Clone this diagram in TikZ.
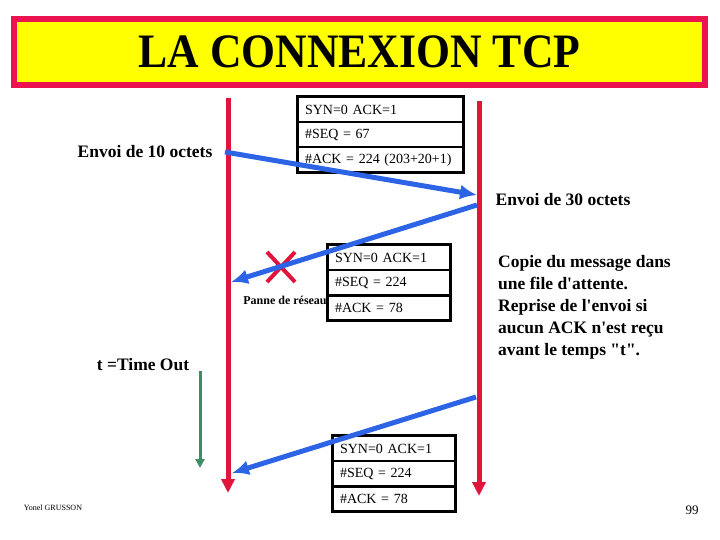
\documentclass[tikz,border=0pt]{standalone}
\usepackage{fontspec}
\setmainfont{Liberation Serif}[Ligatures=TeXOff]
\usetikzlibrary{arrows.meta, positioning, calc}
\definecolor{framered}{RGB}{235,20,80}
\definecolor{linered}{RGB}{225,20,60}
\definecolor{segblue}{RGB}{45,100,230}
\definecolor{timegreen}{RGB}{60,140,100}
\definecolor{titleyellow}{RGB}{255,255,0}

\begin{document}
\begin{tikzpicture}[x=1pt, y=-1pt,
    every node/.style={font=\fontsize{17.5}{22}\selectfont\bfseries},
    rowbox/.style={draw, line width=1.2pt, minimum height=24pt, inner sep=0pt, text width=#1-14pt, minimum width=#1, align=left, font=\fontsize{14}{14}\selectfont},
    life/.style={linered, line width=5pt, -{Triangle[width=13pt,length=14pt]}},
    segment/.style={segblue, line width=5pt, -{Latex[width=15pt,length=17pt]}}]
\useasboundingbox (0,0) rectangle (720,540);
% title
\node[draw=framered, line width=6pt, fill=titleyellow, minimum width=691pt, minimum height=66pt, inner sep=0pt] (title) at (359.5,52) {\fontsize{48}{48}\selectfont\scalebox{0.91}[1]{LA CONNEXION TCP}};
% lifelines
\coordinate (hostA) at (228,98);
\coordinate (hostAend) at (228,493);
\coordinate (hostB) at (479,101);
\coordinate (hostBend) at (479,496);
\draw[life] (hostA) -- (hostAend);
\draw[life] (hostB) -- (hostBend);
% time out
\coordinate (tout) at (200,371);
\coordinate (toutend) at (200,468);
\draw[timegreen, line width=3pt, -{Triangle[width=9pt,length=9pt]}] (tout) -- (toutend);
% network failure
\coordinate (xc) at (281,267);
\draw[linered, line width=4pt] ($(xc)+(-14,-15)$) -- ($(xc)+(14,15)$) ($(xc)+(14,-15)$) -- ($(xc)+(-14,15)$);
% first segment header
\node[rowbox=165pt, fill=white] (h1a) at (380.5,109.5) {SYN=0 ACK=1};
\node[rowbox=165pt, fill=white, below=0pt of h1a] (h1b) {\#SEQ = 67};
\node[rowbox=165pt, fill=white, below=0pt of h1b] (h1c) {\#ACK = 224 (203+20+1)};
\draw[line width=3pt] (h1a.north west) rectangle (h1c.south east);
% lost segment header
\node[rowbox=122pt, fill=white] (h2a) at (389,257.5) {SYN=0 ACK=1};
\node[rowbox=122pt, fill=white, below=0pt of h2a] (h2b) {\#SEQ = 224};
\node[rowbox=122pt, fill=white, below=0pt of h2b] (h2c) {\#ACK = 78};
\draw[line width=3pt] (h2a.north west) rectangle (h2c.south east);
% resent segment header
\node[rowbox=122pt, fill=white] (h3a) at (394,448.5) {SYN=0 ACK=1};
\node[rowbox=122pt, fill=white, below=0pt of h3a] (h3b) {\#SEQ = 224};
\node[rowbox=122pt, fill=white, below=0pt of h3b] (h3c) {\#ACK = 78};
\draw[line width=3pt] (h3a.north west) rectangle (h3c.south east);
% segments
\coordinate (s1) at (225,152);
\coordinate (s1end) at (477,195);
\coordinate (s2) at (477,205);
\coordinate (s2end) at (231,282);
\coordinate (s3) at (476,397);
\coordinate (s3end) at (232,473);
\draw[segment] (s1) -- (s1end);
\draw[segment] (s2) -- (s2end);
\draw[segment] (s3) -- (s3end);
% labels
\node (send10) at (145,152) {Envoi de 10 octets};
\node (send30) at (563,200) {Envoi de 30 octets};
\node (timeout) at (143,365) {t =Time Out};
\node[font=\fontsize{12}{12}\selectfont\bfseries] (failure) at (285,300) {Panne de réseau};
\node[anchor=north west, align=left, inner sep=0pt] (note) at (498,255) {Copie du message dans\\une file d'attente.\\Reprise de l'envoi si\\aucun ACK n'est reçu\\avant le temps "t".};
\node[font=\fontsize{8}{8}\selectfont] (author) at (53,508) {Yonel GRUSSON};
\node[font=\fontsize{13}{13}\selectfont] (page) at (692,510) {99};
\end{tikzpicture}
\end{document}
